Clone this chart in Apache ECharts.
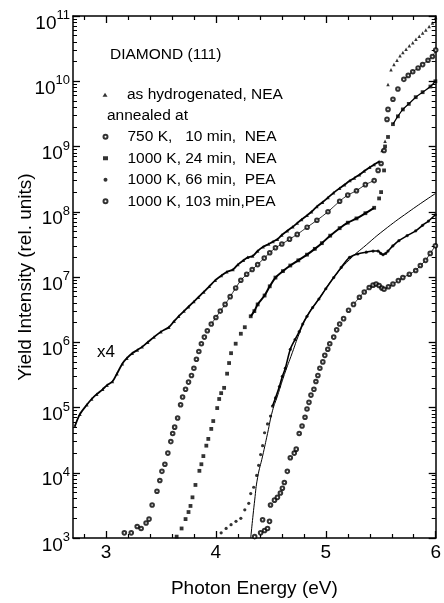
<!DOCTYPE html>
<html><head><meta charset="utf-8">
<script src="https://cdn.jsdelivr.net/npm/echarts@6/dist/echarts.min.js"></script>
<style>html,body{margin:0;padding:0;background:#fff}#c{width:444px;height:603px}</style>
</head><body><div id="c"></div>
<script>
// ---- data: [photon energy (eV), yield intensity (rel. units)] ----
const hydrogenated = [
[2.718,5.2e4],[2.763,7.9e4],[2.826,1.1e5],[2.87,1.35e5],[2.916,1.6e5],[2.970,1.9e5],[3.01,2.2e5],[3.059,2.5e5],[3.10,3.3e5],[3.149,4.7e5],
[3.19,5.7e5],[3.239,6.8e5],[3.285,7.6e5],[3.329,8.5e5],[3.38,1.0e6],[3.437,1.2e6],[3.50,1.45e6],[3.572,1.7e6],[3.62,2.1e6],[3.661,2.5e6],
[3.71,3.0e6],[3.751,3.5e6],[3.80,4.2e6],[3.841,4.9e6],[3.89,5.9e6],[3.94,7.2e6],[3.994,8.9e6],[4.05,1.05e7],[4.10,1.2e7],[4.156,1.3e7],
[4.20,1.55e7],[4.25,1.8e7],[4.29,2.0e7],[4.335,2.1e7],[4.38,2.5e7],[4.43,2.9e7],[4.48,3.2e7],[4.52,3.5e7],[4.560,3.8e7],[4.60,4.4e7],
[4.65,5.1e7],[4.70,5.9e7],[4.740,6.7e7],[4.78,7.6e7],[4.83,8.8e7],[4.87,1.0e8],[4.919,1.2e8],[4.97,1.4e8],[5.02,1.65e8],[5.07,1.95e8],
[5.126,2.3e8],[5.17,2.6e8],[5.22,3.0e8],[5.26,3.3e8],[5.306,3.7e8],[5.35,4.2e8],[5.40,4.8e8],[5.44,5.3e8],[5.485,5.9e8],
[5.512,8.7e8],[5.539,1.2e9],[5.566,8.9e9],[5.593,1.5e10],[5.620,1.8e10],[5.648,2.1e10],[5.675,2.45e10],[5.701,2.75e10],[5.73,3.1e10],
[5.76,3.5e10],[5.791,3.9e10],[5.82,4.4e10],[5.85,4.9e10],[5.881,5.5e10],[5.91,6.1e10],[5.94,6.9e10],[5.970,7.8e10],[6.0,9.5e10]
];
const annealed750K10 = [
[3.167,1.2e3],[3.230,1.2e3],[3.284,1.5e3],[3.320,1.4e3],[3.365,1.7e3],[3.392,1.95e3],[3.420,3.2e3],[3.464,5.2e3],[3.490,7.6e3],[3.509,1.05e4],
[3.536,1.35e4],[3.563,2.0e4],[3.590,3.0e4],[3.607,4.0e4],[3.625,5.0e4],[3.652,6.9e4],[3.679,1.1e5],[3.697,1.45e5],[3.724,1.9e5],[3.751,2.45e5],
[3.778,3.1e5],[3.800,4.0e5],[3.823,5.5e5],[3.845,7.2e5],[3.868,9.5e5],[3.895,1.2e6],[3.922,1.5e6],[3.958,1.9e6],[4.00,2.4e6],[4.04,3.0e6],
[4.084,3.8e6],[4.13,5.0e6],[4.18,6.8e6],[4.227,8.9e6],[4.28,1.1e7],[4.33,1.3e7],[4.380,1.55e7],[4.44,1.95e7],[4.49,2.35e7],[4.542,2.8e7],
[4.60,3.2e7],[4.67,3.8e7],[4.740,4.5e7],[4.83,5.8e7],[4.919,7.4e7],[5.02,1.0e8],[5.126,1.45e8],[5.20,1.8e8],[5.279,2.1e8],[5.36,2.6e8],
[5.440,3.0e8],[5.476,4.3e8],[5.503,5.5e8],[5.530,8.7e8],[5.557,2.6e9],[5.566,3.7e9],[5.611,5.3e9],[5.656,7.6e9],[5.710,1.07e10],[5.75,1.23e10],
[5.791,1.4e10],[5.84,1.6e10],[5.881,1.8e10],[5.93,2.1e10],[5.970,2.4e10],[6.0,3.0e10]
];
const annealed1000K24 = [
[3.643,1.05e3],[3.688,1.4e3],[3.724,1.95e3],[3.751,2.5e3],[3.769,3.1e3],[3.787,4.2e3],[3.814,6.5e3],[3.850,1.07e4],[3.868,1.35e4],[3.886,1.8e4],
[3.913,2.6e4],[3.931,3.3e4],[3.958,4.7e4],[3.976,6.2e4],[4.012,9.8e4],[4.030,1.35e5],[4.048,1.66e5],[4.075,2.0e5],[4.102,3.3e5],[4.12,4.8e5],
[4.138,6.8e5],[4.18,9.5e5],[4.227,1.35e6],[4.263,1.7e6],[4.317,2.5e6],[4.350,3.0e6],[4.380,3.8e6],[4.443,5.2e6],[4.49,7.2e6],[4.542,9.8e6],
[4.61,1.23e7],[4.677,1.5e7],[4.75,1.8e7],[4.829,2.2e7],[4.90,2.7e7],[4.964,3.3e7],[5.04,4.3e7],[5.126,5.6e7],[5.20,6.8e7],[5.279,7.9e7],
[5.36,9.5e7],[5.440,1.15e8],[5.485,1.6e8],[5.503,2.0e8],[5.530,4.3e8],[5.539,1.0e9],[5.566,1.4e9],[5.611,2.2e9],[5.656,2.9e9],[5.701,3.7e9],
[5.755,4.5e9],[5.818,5.7e9],[5.881,6.8e9],[5.952,8.3e9],[5.997,1.0e10]
];
const annealed1000K66 = [
[4.048,1.2e3],[4.093,1.4e3],[4.138,1.6e3],[4.183,1.8e3],[4.227,2.0e3],[4.263,2.7e3],[4.299,3.4e3],[4.317,4.8e3],[4.344,6.0e3],[4.371,9.1e3],
[4.389,1.3e4],[4.407,1.9e4],[4.425,2.6e4],[4.443,4.1e4],[4.470,5.6e4],[4.497,7.4e4],[4.515,1.05e5],[4.542,1.4e5],[4.578,2.1e5],[4.605,3.0e5],
[4.632,4.0e5],[4.677,7.8e5],[4.72,1.1e6],[4.758,1.45e6],[4.79,1.9e6],[4.829,2.5e6],[4.88,3.4e6],[4.937,4.6e6],[5.00,6.6e6],[5.072,9.8e6],
[5.14,1.4e7],[5.216,2.0e7],[5.29,2.25e7],[5.368,2.4e7],[5.43,2.5e7],[5.476,2.5e7],[5.50,2.3e7],[5.521,2.2e7],[5.545,2.3e7],[5.566,2.5e7],
[5.61,3.0e7],[5.665,3.6e7],[5.74,4.3e7],[5.818,5.1e7],[5.88,6.2e7],[5.934,7.2e7],[5.997,9.0e7]
];
const annealed1000K103 = [
[4.353,1.05e3],[4.407,1.2e3],[4.425,1.9e3],[4.443,1.3e3],[4.470,1.4e3],[4.488,1.8e3],[4.497,3.2e3],[4.533,3.8e3],[4.560,4.2e3],[4.587,4.9e3],
[4.605,5.8e3],[4.623,7.1e3],[4.650,1.05e4],[4.677,1.7e4],[4.713,2.0e4],[4.731,2.3e4],[4.758,4.0e4],[4.784,5.2e4],[4.811,7.1e4],[4.829,9.5e4],
[4.847,1.2e5],[4.865,1.55e5],[4.892,1.9e5],[4.910,2.5e5],[4.928,3.1e5],[4.946,4.0e5],[4.973,5.0e5],[4.991,6.3e5],[5.018,7.8e5],[5.036,9.5e5],
[5.072,1.2e6],[5.099,1.55e6],[5.126,1.9e6],[5.162,2.3e6],[5.207,3.1e6],[5.252,3.8e6],[5.306,4.9e6],[5.35,5.9e6],[5.395,6.9e6],[5.43,7.5e6],
[5.458,7.8e6],[5.485,7.4e6],[5.51,6.8e6],[5.530,6.5e6],[5.57,7.1e6],[5.611,7.8e6],[5.66,8.8e6],[5.701,9.8e6],[5.76,1.1e7],[5.818,1.26e7],
[5.86,1.5e7],[5.908,1.8e7],[5.95,2.3e7],[5.997,3.0e7]
];
const fitCurve = [
[4.317,1.0e3],[4.353,3.8e3],[4.380,8.5e3],[4.425,1.8e4],[4.470,4.0e4],[4.515,8.9e4],[4.560,1.5e5],[4.623,3.2e5],[4.695,6.9e5],[4.758,1.35e6],
[4.829,2.5e6],[4.937,4.6e6],[5.072,9.8e6],[5.216,1.85e7],[5.368,3.1e7],[5.521,5.1e7],[5.755,1.0e8],[5.997,1.9e8]
];
const seriesNames = ['as hydrogenated, NEA','750 K,   10 min,  NEA','1000 K, 24 min,  NEA','1000 K, 66 min,  PEA','1000 K, 103 min,PEA'];
const xMajorTicks = [3,4,5,6];
const xMinorTicks = [2.8,3.2,3.4,3.6,3.8,4.2,4.4,4.6,4.8,5.2,5.4,5.6,5.8];
const yDecadeMin = 3, yDecadeMax = 11;

const FONT = '"Liberation Sans", Arial, sans-serif';
const yMinorTicks = [];
for (let n = yDecadeMin; n < yDecadeMax; n++) for (let k = 2; k <= 9; k++) yMinorTicks.push(n + Math.log10(k));
// energy ranges where the measured points are packed so closely that they form a band
const seg = (arr, a, b) => arr.filter(p => p[0] >= a && p[0] <= b);

const black = '#000';
const axBase = (pos) => ({type:'value', min:2.7, max:6, position:pos, splitLine:{show:false}});
const ayBase = (pos) => ({type:'value', min:yDecadeMin, max:yDecadeMax, position:pos, splitLine:{show:false}});
const lineOn = {show:true, onZero:false, lineStyle:{color:black, width:1.5}};
const lineOff = {show:false};
const band = (name, data, w) => ({name, type:'line', data, showSymbol:false, symbol:'none', smooth:0.3,
  lineStyle:{color:black, width:w}, xAxisIndex:0, yAxisIndex:0, z:1});
const legendText = {color:black, fontSize:15.5, fontFamily:FONT, lineHeight:21.5, padding:[0,0,0,14.5]};

const chart = echarts.init(document.getElementById('c'));
chart.setOption({
  animation:false,
  backgroundColor:'#fff',
  grid:{left:73, right:3, top:16, bottom:60},
  xAxis:[
    Object.assign(axBase('bottom'), {axisLine:lineOn,
      axisTick:{show:true, inside:true, length:7, customValues:xMajorTicks, lineStyle:{color:black, width:1.3}},
      axisLabel:{customValues:xMajorTicks, color:black, fontSize:19, fontFamily:FONT, margin:5},
      name:'Photon Energy (eV)', nameLocation:'middle', nameGap:41, nameMoveOverlap:false,
      nameTextStyle:{color:black, fontSize:19, fontFamily:FONT}}),
    Object.assign(axBase('bottom'), {axisLine:lineOff,
      axisTick:{show:true, inside:true, length:4, customValues:xMinorTicks, lineStyle:{color:black, width:1.2}},
      axisLabel:{show:false}}),
    Object.assign(axBase('top'), {axisLine:lineOn,
      axisTick:{show:true, inside:true, length:7, customValues:xMajorTicks, lineStyle:{color:black, width:1.3}},
      axisLabel:{show:false}}),
    Object.assign(axBase('top'), {axisLine:lineOff,
      axisTick:{show:true, inside:true, length:4, customValues:xMinorTicks, lineStyle:{color:black, width:1.2}},
      axisLabel:{show:false}})
  ],
  yAxis:[
    {type:'log', logBase:10, min:Math.pow(10,yDecadeMin), max:Math.pow(10,yDecadeMax), show:false},
    Object.assign(ayBase('left'), {interval:1, axisLine:lineOn,
      axisTick:{show:true, inside:true, length:7, lineStyle:{color:black, width:1.3}},
      axisLabel:{margin:3, padding:[10,0,0,0], formatter:(v)=>'{b|10}{s|'+v+'}',
        rich:{b:{fontSize:19, fontFamily:FONT, color:black, verticalAlign:'bottom', lineHeight:24},
              s:{fontSize:13, fontFamily:FONT, color:black, verticalAlign:'top', lineHeight:13}}},
      name:'Yield Intensity (rel. units)', nameLocation:'middle', nameGap:38, nameRotate:90, nameMoveOverlap:false,
      nameTextStyle:{color:black, fontSize:19, fontFamily:FONT}}),
    Object.assign(ayBase('left'), {axisLine:lineOff,
      axisTick:{show:true, inside:true, length:4, customValues:yMinorTicks, lineStyle:{color:black, width:1}},
      axisLabel:{show:false}}),
    Object.assign(ayBase('right'), {interval:1, axisLine:lineOn,
      axisTick:{show:true, inside:true, length:7, lineStyle:{color:black, width:1.3}},
      axisLabel:{show:false}}),
    Object.assign(ayBase('right'), {axisLine:lineOff,
      axisTick:{show:true, inside:true, length:4, customValues:yMinorTicks, lineStyle:{color:black, width:1}},
      axisLabel:{show:false}})
  ],
  legend:[
    {data:[{name:seriesNames[0], icon:'triangle'}], orient:'vertical', left:102.5, top:84, padding:0,
     itemWidth:5, itemHeight:4, itemGap:0, selectedMode:false, textStyle:legendText},
    {data:[{name:seriesNames[1], icon:'emptyCircle'},{name:seriesNames[2], icon:'rect'},
           {name:seriesNames[3], icon:'circle'},{name:seriesNames[4], icon:'emptyCircle'}],
     orient:'vertical', left:102.5, top:126, padding:0,
     itemWidth:5, itemHeight:4, itemGap:0, selectedMode:false, textStyle:legendText}
  ],
  graphic:[
    {type:'text', style:{text:'DIAMOND (111)', x:110, y:55, fill:black, font:'15.5px '+FONT, verticalAlign:'middle'}},
    {type:'text', style:{text:'annealed at', x:107, y:116, fill:black, font:'15.5px '+FONT, verticalAlign:'middle'}},
    {type:'text', style:{text:'x4', x:97, y:352, fill:black, font:'17px '+FONT, verticalAlign:'middle'}}
  ],
  series:[
    {name:seriesNames[0], type:'scatter', data:hydrogenated, symbol:'triangle', symbolSize:3.5,
     itemStyle:{color:black}, xAxisIndex:0, yAxisIndex:0},
    {name:seriesNames[1], type:'scatter', data:annealed750K10, symbol:'emptyCircle', symbolSize:3.6,
     itemStyle:{color:black, borderColor:black, borderWidth:0.8}, xAxisIndex:0, yAxisIndex:0},
    {name:seriesNames[2], type:'scatter', data:annealed1000K24, symbol:'rect', symbolSize:3.8,
     itemStyle:{color:black}, xAxisIndex:0, yAxisIndex:0},
    {name:seriesNames[3], type:'scatter', data:annealed1000K66, symbol:'circle', symbolSize:3.2,
     itemStyle:{color:black}, xAxisIndex:0, yAxisIndex:0},
    {name:seriesNames[4], type:'scatter', data:annealed1000K103, symbol:'emptyCircle', symbolSize:3.6,
     itemStyle:{color:black, borderColor:black, borderWidth:0.8}, xAxisIndex:0, yAxisIndex:0},
    band('hydrogenated band', seg(hydrogenated, 2.7, 5.49), 1.8),
    band('750 K band', seg(annealed750K10, 3.95, 5.45), 0.8),
    band('750 K top band', seg(annealed750K10, 5.70, 6.0), 0.8),
    band('24 min band', seg(annealed1000K24, 4.3, 5.45), 2),
    band('24 min top band', seg(annealed1000K24, 5.6, 6.0), 1.2),
    band('66 min band', seg(annealed1000K66, 4.5, 6.0), 1.6),
    band('103 min band', seg(annealed1000K103, 5.25, 6.0), 0.8),
    {name:'fit', type:'line', data:fitCurve, smooth:true, showSymbol:false, symbol:'none',
     lineStyle:{color:black, width:1}, xAxisIndex:0, yAxisIndex:0, z:1}
  ]
});
</script></body></html>
